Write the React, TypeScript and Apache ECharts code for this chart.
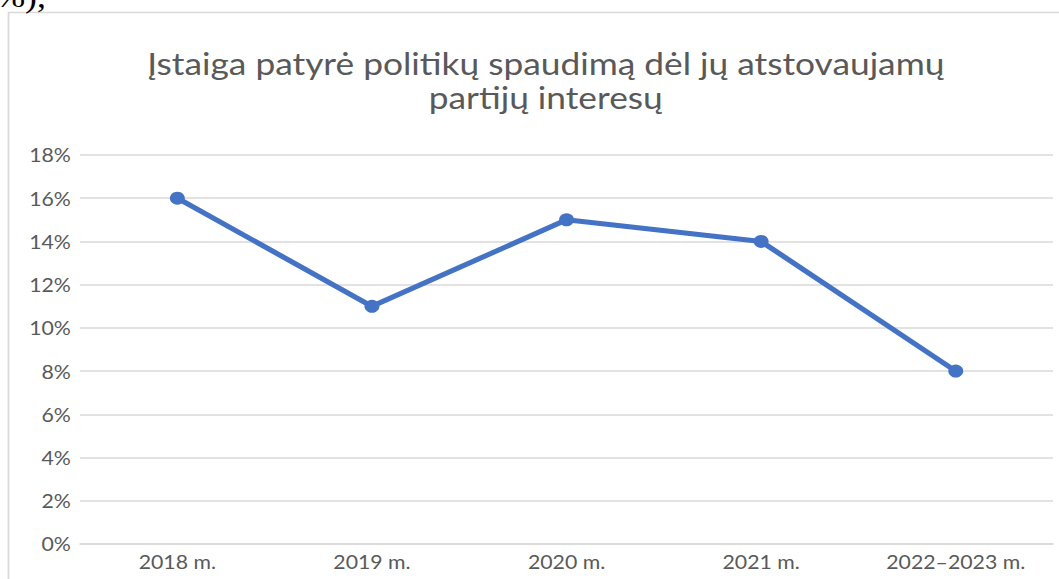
import React, { useEffect, useRef } from "react";
import * as echarts from "echarts";

const categories = ["2018 m.", "2019 m.", "2020 m.", "2021 m.", "2022–2023 m."];
const values = [16, 11, 15, 14, 8];
const titleText = "Įstaiga patyrė politikų spaudimą dėl jų atstovaujamų\npartijų interesų";
const topFragment = "%),";

const SX = 1.15;
const W = 1059 / SX;

export default function App() {
  const ref = useRef<HTMLDivElement>(null);
  useEffect(() => {
    if (!ref.current) return;
    const chart = echarts.init(ref.current, null, { renderer: "svg" });
    chart.setOption({
      animation: false,
      backgroundColor: "#ffffff",
      title: {
        text: titleText,
        left: 540 / SX,
        textAlign: "center",
        top: 41,
        textStyle: {
          fontFamily: "Lato",
          fontSize: 30.7,
          fontWeight: "normal",
          color: "#595959",
          lineHeight: 34,
        },
      },
      graphic: [
        {
          type: "rect",
          shape: { x: 7.4, y: 12.5, width: 1200, height: 700 },
          style: { fill: "none", stroke: "#d9d9d9", lineWidth: 1.5 },
          silent: true,
          z: -1,
        },
        {
          type: "text",
          x: -4,
          y: 12,
          style: {
            text: topFragment,
            font: "31px 'Liberation Serif'",
            fill: "#000000",
            textVerticalAlign: "bottom",
          },
        },
      ],
      grid: { left: 69.6, right: 5.3, top: 155, bottom: 35, containLabel: false },
      xAxis: {
        type: "category",
        data: categories,
        boundaryGap: true,
        axisLine: { show: true, lineStyle: { color: "#d9d9d9", width: 1.5 } },
        axisTick: { show: false },
        axisLabel: { color: "#595959", fontFamily: "Lato", fontSize: 18.5, margin: 8 },
      },
      yAxis: {
        type: "value",
        min: 0,
        max: 18,
        interval: 2,
        axisLine: { show: false },
        axisTick: { show: false },
        splitLine: { lineStyle: { color: "#d9d9d9", width: 1.5 } },
        axisLabel: {
          color: "#595959",
          fontFamily: "Lato",
          fontSize: 18.5,
          margin: 8,
          formatter: (v: number) => v + "%",
        },
      },
      series: [
        {
          type: "line",
          data: values,
          symbol: "circle",
          symbolSize: 13,
          lineStyle: { color: "#4472C4", width: 5 },
          itemStyle: { color: "#4472C4" },
        },
      ],
    });
    return () => chart.dispose();
  }, []);
  return (
    <div
      style={{ position: "absolute", left: 0, top: 0, width: 1059, height: 579, overflow: "hidden" }}
    >
      <div
        ref={ref}
        style={{
          width: W,
          height: 579,
          transform: `scaleX(${SX})`,
          transformOrigin: "0 0",
        }}
      />
    </div>
  );
}
